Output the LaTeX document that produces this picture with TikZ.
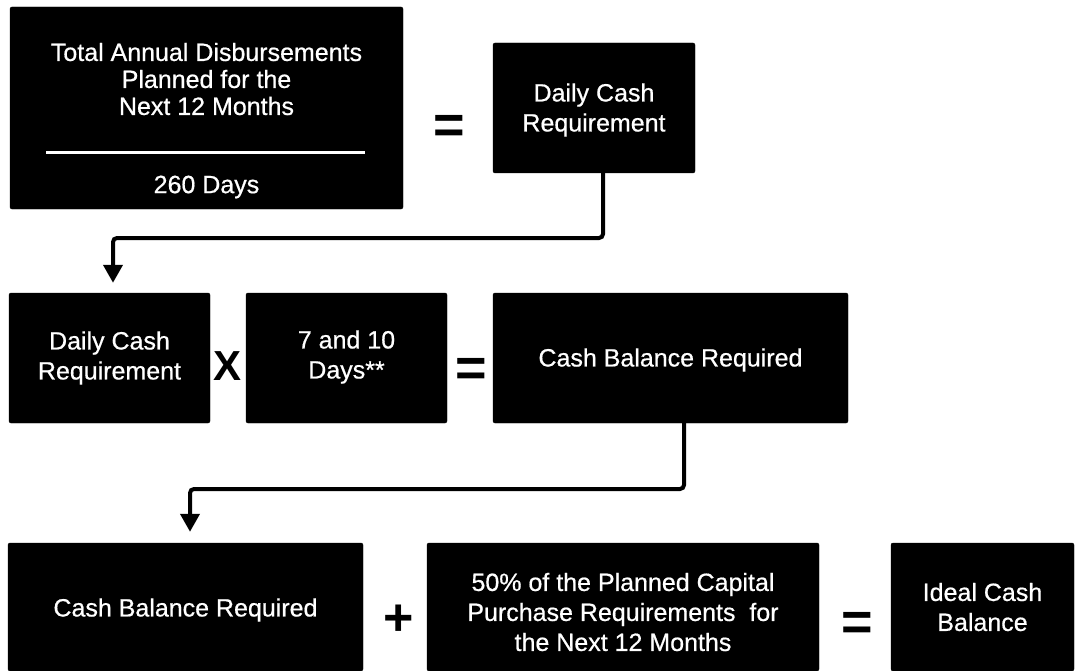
\documentclass[tikz,border=0pt]{standalone}
\usepackage{fontspec}
\setmainfont{Liberation Sans}
\newfontfamily\boxfont[FakeBold=0.6]{Liberation Sans}
\usetikzlibrary{arrows.meta}
\tikzset{
  blk/.style={fill=black, draw=black, rounded corners=2pt, inner sep=0pt},
  wtxt/.style={text=white, align=center, inner sep=0pt, font=\boxfont\fontsize{25}{30}\selectfont},
  sym/.style={inner sep=0pt, text=black, font=\fontsize{#1}{#1}\selectfont\bfseries},
  conn/.style={draw=black, line width=4pt, rounded corners=4pt, -{Triangle[width=19pt,length=18pt]}}
}
\begin{document}
\begin{tikzpicture}[x=1pt, y=-1pt]
\useasboundingbox[fill=white] (0,0) rectangle (1078,671);
% row 1
\node[blk, minimum width=393pt, minimum height=202pt] (A) at (206.5,108) {};
\node[wtxt, font=\boxfont\fontsize{25}{27}\selectfont] (Anum) at (206.5,79) {Total Annual Disbursements\\Planned for the\\Next 12 Months};
\draw[white, line width=3pt] (46,153) coordinate (dl) -- (365,153) coordinate (dr);
\node[wtxt] (Aden) at (206.5,187) {260 Days};
\node[sym=54] (eq1) at (449,129) {=};
\node[blk, minimum width=202pt, minimum height=130pt] (B) at (594,108) {};
\node[wtxt] (Bt) at (594,110) {Daily Cash\\Requirement};
% row 2
\node[blk, minimum width=201pt, minimum height=130pt] (C) at (109.5,358) {};
\node[wtxt] (Ct) at (109.5,358) {Daily Cash\\Requirement};
\node[sym=42] (times) at (228,366) {X};
\node[blk, minimum width=201pt, minimum height=130pt] (D) at (346.5,358) {};
\node[wtxt] (Dt) at (346.5,357) {7 and 10\\Days**};
\node[sym=54] (eq2) at (471,372) {=};
\node[blk, minimum width=355pt, minimum height=130pt] (E) at (670.5,358) {};
\node[wtxt] (Et) at (670.5,360) {Cash Balance Required};
% row 3
\node[blk, minimum width=355pt, minimum height=128pt] (F) at (185.5,607) {};
\node[wtxt] (Ft) at (185.5,610) {Cash Balance Required};
\node[sym=52] (plus) at (399,620) {+};
\node[blk, minimum width=392pt, minimum height=128pt] (G) at (623,607) {};
\node[wtxt] (Gt) at (623,612) {50\% of the Planned Capital\\Purchase Requirements\ \ for\\the Next 12 Months};
\node[sym=54] (eq3) at (857,626) {=};
\node[blk, minimum width=183pt, minimum height=128pt] (H) at (982.5,607) {};
\node[wtxt] (Ht) at (982.5,607) {Ideal Cash\\Balance};
% connectors
\draw[conn] ([xshift=9pt]B.south) |- (113,238) -- ([xshift=3.5pt,yshift=10pt]C.north);
\draw[conn] ([xshift=13.5pt]E.south) |- (190,489) -- ([xshift=4.5pt,yshift=11pt]F.north);
\end{tikzpicture}
\end{document}
